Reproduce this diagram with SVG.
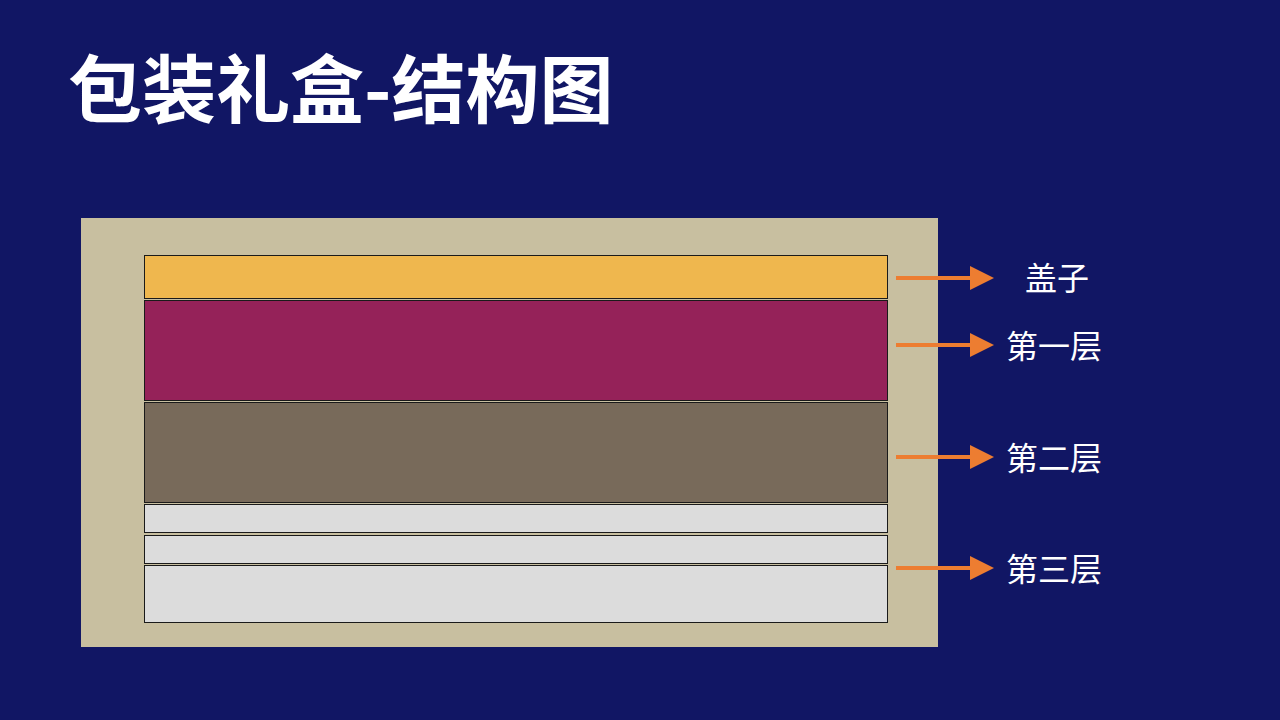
<svg xmlns="http://www.w3.org/2000/svg" width="1280" height="720" viewBox="0 0 1280 720">
<defs>
<style>
.layer{stroke:#1a1a1a;stroke-width:1}
.lbl{font-family:"Noto Sans CJK SC",sans-serif;font-size:32px;fill:#ffffff}
.arr{stroke:#ed7d31;stroke-width:4;fill:none}
</style>
<marker id="ah" markerWidth="6" markerHeight="6" refX="5" refY="3" orient="auto" markerUnits="strokeWidth"><path d="M0,0 L6,3 L0,6 z" fill="#ed7d31"/></marker>
</defs>
<rect width="1280" height="720" fill="#111664"/>
<text x="68" y="117" font-family="Noto Sans CJK SC,sans-serif" font-size="74" font-weight="bold" fill="#ffffff">包装礼盒-结构图</text>
<g id="box">
<rect x="81" y="218" width="857" height="429" fill="#c8bfa0"/>
<rect id="lid" class="layer" x="144.500" y="255.500" width="743" height="43" fill="#efb74e"/>
<rect id="layer1" class="layer" x="144.500" y="300.500" width="743" height="100" fill="#952259"/>
<rect id="layer2" class="layer" x="144.500" y="402.500" width="743" height="100" fill="#786a5a"/>
<rect id="layer3a" class="layer" x="144.500" y="504.500" width="743" height="28" fill="#dcdcdc"/>
<rect id="layer3b" class="layer" x="144.500" y="535.500" width="743" height="28" fill="#dcdcdc"/>
<rect id="layer3c" class="layer" x="144.500" y="565.500" width="743" height="57" fill="#dcdcdc"/>
</g>
<g id="connectors">
<line class="arr" x1="896" y1="278" x2="990" y2="278" marker-end="url(#ah)"/>
<line class="arr" x1="896" y1="345" x2="990" y2="345" marker-end="url(#ah)"/>
<line class="arr" x1="896" y1="457" x2="990" y2="457" marker-end="url(#ah)"/>
<line class="arr" x1="896" y1="568" x2="990" y2="568" marker-end="url(#ah)"/>
</g>
<g id="labels">
<text class="lbl" x="1025" y="290">盖子</text>
<text class="lbl" x="1006" y="358">第一层</text>
<text class="lbl" x="1006" y="470">第二层</text>
<text class="lbl" x="1006" y="581">第三层</text>
</g>
</svg>
